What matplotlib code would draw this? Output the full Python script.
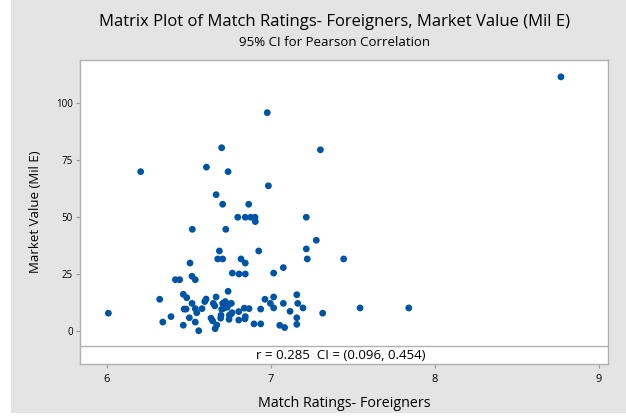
import matplotlib.pyplot as plt
from matplotlib.patches import Rectangle

# Match Ratings - Foreigners
ratings = [
    6.977, 6.699, 7.301, 6.205, 6.606, 6.738, 6.984, 6.665, 6.705, 6.864,
    6.797, 6.843, 6.876, 6.902, 6.904, 7.215, 6.520, 6.724, 7.276, 6.685,
    6.925, 7.215, 6.675, 6.705, 6.817, 7.221, 7.443, 6.506, 6.843, 7.075,
    6.764, 6.805, 6.843, 7.016, 6.417, 6.443, 6.518, 6.538, 6.738, 6.321,
    6.465, 6.486, 6.518, 6.604, 6.596, 6.665, 6.470, 6.482, 6.538, 6.547,
    6.579, 6.648, 6.657, 6.705, 6.721, 6.740, 6.758, 6.699, 6.713, 6.733,
    6.762, 6.695, 6.746, 6.803, 6.837, 6.390, 6.340, 6.502, 6.465, 6.538,
    6.559, 6.634, 6.644, 6.659, 6.669, 6.693, 6.744, 6.754, 6.803, 6.841,
    6.963, 6.996, 7.016, 7.016, 7.075, 7.116, 7.157, 7.163, 7.195, 7.315,
    7.157, 7.157, 7.053, 7.083, 6.937, 6.896, 6.937, 6.866, 6.843, 6.008,
    8.768, 7.543, 7.840,
]
# Market Value (Mil E)
values = [
    95.8, 80.4, 79.5, 69.9, 71.9, 69.9, 63.7, 59.8, 55.6, 55.6,
    49.9, 49.9, 49.9, 49.9, 48.0, 49.9, 44.6, 44.6, 39.8, 35.1,
    35.1, 36.0, 31.6, 31.6, 31.6, 31.6, 31.6, 29.8, 29.8, 27.8,
    25.4, 25.0, 25.0, 25.4, 22.5, 22.5, 24.0, 22.5, 17.4, 13.9,
    16.1, 14.6, 12.1, 14.0, 12.9, 14.9, 9.6, 9.6, 9.8, 8.0,
    9.8, 12.1, 11.0, 12.1, 12.9, 11.8, 12.1, 9.5, 10.0, 10.4,
    8.0, 6.9, 6.9, 8.5, 10.0, 6.3, 3.9, 5.8, 2.5, 3.9,
    0.1, 5.6, 4.4, 1.0, 2.6, 5.6, 5.1, 7.3, 4.8, 5.3,
    13.9, 12.1, 14.9, 10.1, 12.1, 8.6, 15.9, 12.1, 10.1, 7.8,
    5.8, 2.9, 2.5, 1.5, 9.6, 3.1, 3.1, 9.8, 6.3, 7.8,
    111.5, 10.1, 10.1,
]
x_ticks = [6, 7, 8, 9]
y_ticks = [0, 25, 50, 75, 100]
stat_text = "r = 0.285  CI = (0.096, 0.454)"

plt.rcParams['font.family'] = ['Open Sans', 'DejaVu Sans']

fig = plt.figure(figsize=(6.26, 4.16), dpi=100, facecolor="white")
fig.patches.append(Rectangle((11 / 626, 3 / 416), 1, 1, transform=fig.transFigure,
                             facecolor="#e4e4e4", edgecolor="none", zorder=-5))

ax = fig.add_axes([80 / 626, 1 - 364 / 416, 528 / 626, 304 / 416])
ax.set_facecolor("white")
ax.scatter(ratings, values, s=24, color="#0054a6", edgecolors="none", zorder=3)

ax.set_xlim(5.835, 9.055)
ax.set_ylim(-14.5, 118.9)
ax.set_xticks(x_ticks)
ax.set_yticks(y_ticks)
ax.tick_params(axis="both", labelsize=7, color="#9a9a9a", length=3, width=0.8, pad=2)
ax.tick_params(axis="x", labelsize=8, pad=4)
for s in ax.spines.values():
    s.set_color("#b0b0b0")
    s.set_linewidth(1.0)

# correlation strip under the data area
ax.axhline(-6.6, color="#b0b0b0", linewidth=1.0, zorder=2)
ax.text(7.427, -10.6, stat_text, ha="center", va="center", fontsize=9.5)

ax.set_xlabel("Match Ratings- Foreigners", fontsize=10.3, labelpad=8)
ax.set_ylabel("Market Value (Mil E)", fontsize=9.5, labelpad=10)

fig.text(0.534, 0.947, "Matrix Plot of Match Ratings- Foreigners, Market Value (Mil E)",
         ha="center", va="center", fontsize=12)
fig.text(0.534, 0.897, "95% CI for Pearson Correlation", ha="center", va="center", fontsize=9.5)

plt.savefig("out.png", dpi=100, facecolor=fig.get_facecolor())
